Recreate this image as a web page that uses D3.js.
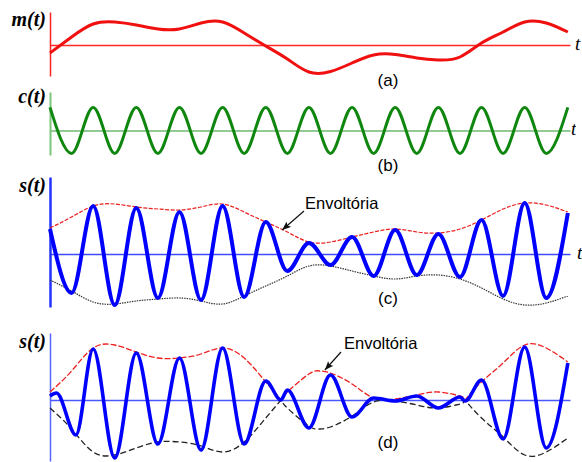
<!DOCTYPE html>
<html lang="pt">
<head>
    <meta charset="utf-8">
    <style type="text/css">
        body { margin: 0; background: #fff; }
        svg { display: block; background: #fff; }
        .lbl { font-family: "Liberation Serif", "Times New Roman", serif; font-weight: bold; font-style: italic; font-size: 20px; }
        .tvar { font-family: "Liberation Serif", "Times New Roman", serif; font-style: italic; font-size: 19px; }
        .tag { font-family: "Liberation Sans", Arial, sans-serif; font-size: 17px; }
        .note { font-family: "Liberation Sans", Arial, sans-serif; font-size: 16.5px; }
    </style>
</head>
<body>
<div id="chart"></div>
<script src="https://d3js.org/d3.v7.min.js"></script>
<script type="text/javascript">
    /* time in carrier periods, sampled at every carrier peak / trough */
    var tGrid = [0, 0.5, 1, 1.5, 2, 2.5, 3, 3.5, 4, 4.5, 5, 5.5, 6,
                 6.5, 7, 7.5, 8, 8.5, 9, 9.5, 10, 10.5, 11, 11.5, 12];

    // (a) message m(t)
    var message = [-0.32, 0.32, 0.84, 0.92, 0.80, 0.64, 0.64, 0.88, 0.92, 0.48, -0.04, -0.56, -1.08,
                   -1.06, -0.72, -0.40, -0.38, -0.52, -0.60, -0.48, 0.08, 0.52, 0.92, 0.88, 0.52];

    // (b) carrier c(t)
    var carrier = [1, -1, 1, -1, 1, -1, 1, -1, 1, -1, 1, -1, 1,
                   -1, 1, -1, 1, -1, 1, -1, 1, -1, 1, -1, 1];

    // (c) AM signal and its envelope
    var sAm = [0.50, -0.78, 0.96, -1.02, 0.92, -0.88, 0.84, -0.92, 0.96, -0.86, 0.64, -0.34, 0.22,
               -0.22, 0.34, -0.44, 0.48, -0.42, 0.40, -0.46, 0.68, -0.84, 1.02, -0.88, 0.82];
    var envAm = [0.52, 0.74, 0.96, 1.00, 0.94, 0.90, 0.88, 0.94, 1.00, 0.84, 0.64, 0.44, 0.24,
                 0.24, 0.34, 0.44, 0.50, 0.44, 0.42, 0.50, 0.68, 0.90, 1.02, 0.98, 0.84];

    // (d) DSB signal (extra points where the envelope touches zero)
    var tDsb = [0, 0.15, 0.6, 1, 1.5, 2, 2.5, 3, 3.5, 4, 4.5, 5, 5.35, 5.5, 6,
                6.5, 7, 7.5, 8, 8.5, 9, 9.5, 9.62, 10, 10.5, 11, 11.5, 12];
    var sDsb = [0.08, 0.14, -0.70, 1.02, -1.16, 0.94, -0.88, 0.84, -1.0, 1.04, -0.88, 0.38, 0, 0.20, -0.56,
                0.50, -0.34, 0.04, -0.02, 0.08, -0.16, 0.06, -0.02, 0.40, -0.78, 1.06, -0.96, 0.74];
    var tEnvD = [0, 0.5, 1, 1.5, 2, 2.5, 3, 3.5, 4, 4.5, 5, 5.35, 5.5, 6, 6.25,
                 6.5, 7, 7.5, 8, 8.5, 9, 9.5, 9.62, 10, 10.5, 11, 11.5, 12];
    var envDsb = [0.16, 0.58, 1.04, 1.10, 0.96, 0.84, 0.84, 0.92, 1.04, 0.84, 0.36, 0, -0.16, -0.52, -0.58,
                  -0.54, -0.32, -0.04, -0.02, -0.10, -0.16, -0.08, 0, 0.36, 0.74, 1.10, 1.04, 0.76];

    var panelTags = ['(a)', '(b)', '(c)', '(d)'];
    var noteText = 'Envoltória';

    var width = 582,
        height = 462;

    var svg = d3.select('#chart')
        .append('svg')
        .attr('width', width)
        .attr('height', height);

    var x = d3.scaleLinear().domain([0, 12.05]).range([50, 570]);

    var yA = d3.scaleLinear().domain([-1.24, 1.32]).range([76, 12]);
    var yB = d3.scaleLinear().domain([-1.07, 1.67]).range([155, 92]);
    var yC = d3.scaleLinear().domain([-1.06, 1.54]).range([307, 177]);
    var yD = d3.scaleLinear().domain([-1.22, 1.34]).range([461, 333]);

    function pairs(ts, vs) {
        return ts.map(function (t, i) { return [t, vs[i]]; });
    }

    function lineFor(y, curve) {
        return d3.line()
            .x(function (d) { return x(d[0]); })
            .y(function (d) { return y(d[1]); })
            .curve(curve);
    }

    function drawAxes(y, hColor, hWidth, vColor, vWidth) {
        var gx = svg.append('g')
            .attr('color', hColor)
            .attr('transform', 'translate(0,' + y(0) + ')')
            .call(d3.axisBottom(x).tickValues([]).tickSizeOuter(0));
        gx.select('.domain').style('stroke', hColor).style('stroke-width', hWidth);

        var gy = svg.append('g')
            .attr('color', vColor)
            .attr('transform', 'translate(' + x(0) + ',0)')
            .call(d3.axisLeft(y).tickValues([]).tickSizeOuter(0));
        gy.select('.domain').style('stroke', vColor).style('stroke-width', vWidth);
    }

    var defs = svg.append('defs');
    defs.append('marker')
        .attr('id', 'arrow')
        .attr('viewBox', '0 0 10 8')
        .attr('refX', 10)
        .attr('refY', 4)
        .attr('markerWidth', 9)
        .attr('markerHeight', 7)
        .attr('markerUnits', 'userSpaceOnUse')
        .attr('orient', 'auto')
        .append('path')
        .attr('d', 'M0,0 L10,4 L0,8 L2,4 z')
        .attr('fill', '#111');

    // clip regions above / below the (d) time axis so envelope = |m| and -|m|
    defs.append('clipPath').attr('id', 'upD')
        .append('rect').attr('x', 0).attr('y', 0).attr('width', width).attr('height', yD(0));
    defs.append('clipPath').attr('id', 'downD')
        .append('rect').attr('x', 0).attr('y', yD(0)).attr('width', width).attr('height', height - yD(0));
    defs.append('clipPath').attr('id', 'edgeB')
        .append('rect').attr('x', 0).attr('y', 0).attr('width', 576).attr('height', height);

    /* ---------- (a) m(t) ---------- */
    drawAxes(yA, '#ff2a2a', 1.3, '#ff2020', 1.5);
    svg.append('path')
        .datum(pairs(tGrid, message))
        .attr('d', lineFor(yA, d3.curveNatural))
        .attr('fill', 'none')
        .attr('stroke', '#f01010')
        .attr('stroke-width', 3);

    /* ---------- (b) c(t) ---------- */
    drawAxes(yB, '#6fb86f', 1.5, '#7cc47c', 2);
    svg.append('path')
        .datum(pairs(tGrid, carrier))
        .attr('d', lineFor(yB, d3.curveMonotoneX))
        .attr('fill', 'none')
        .attr('stroke', '#0f870f')
        .attr('stroke-width', 3);

    /* ---------- (c) AM ---------- */
    drawAxes(yC, '#3d4cff', 1.6, '#2233ff', 2.5);
    var envC = pairs(tGrid, envAm);
    svg.append('path')
        .datum(envC)
        .attr('d', lineFor(yC, d3.curveNatural))
        .attr('fill', 'none')
        .attr('stroke', '#ee2020')
        .attr('stroke-width', 1.2)
        .attr('stroke-dasharray', '4,1.5');
    svg.append('path')
        .datum(envC.map(function (d) { return [d[0], -d[1]]; }))
        .attr('d', lineFor(yC, d3.curveNatural))
        .attr('fill', 'none')
        .attr('stroke', '#333')
        .attr('stroke-width', 1.2)
        .attr('stroke-dasharray', '1.5,1');
    svg.append('path')
        .datum(pairs(tGrid, sAm))
        .attr('d', lineFor(yC, d3.curveMonotoneX))
        .attr('fill', 'none')
        .attr('stroke', '#0000ff')
        .attr('stroke-width', 4);

    /* ---------- (d) DSB ---------- */
    drawAxes(yD, '#4a58ff', 1.3, '#5566ff', 1.5);
    var envD = pairs(tEnvD, envDsb);
    var envDneg = envD.map(function (d) { return [d[0], -d[1]]; });
    [envD, envDneg].forEach(function (data) {
        svg.append('path')
            .datum(data)
            .attr('clip-path', 'url(#upD)')
            .attr('d', lineFor(yD, d3.curveNatural))
            .attr('fill', 'none')
            .attr('stroke', '#ee2020')
            .attr('stroke-width', 1.3)
            .attr('stroke-dasharray', '6,2');
        svg.append('path')
            .datum(data)
            .attr('clip-path', 'url(#downD)')
            .attr('d', lineFor(yD, d3.curveNatural))
            .attr('fill', 'none')
            .attr('stroke', '#222')
            .attr('stroke-width', 1.3)
            .attr('stroke-dasharray', '6,3');
    });
    svg.append('path')
        .datum(pairs(tDsb, sDsb))
        .attr('d', lineFor(yD, d3.curveMonotoneX))
        .attr('fill', 'none')
        .attr('stroke', '#0000ff')
        .attr('stroke-width', 3.6);

    /* ---------- labels ---------- */
    var sigLabels = [
        {text: 'm(t)', y: 26},
        {text: 'c(t)', y: 103},
        {text: 's(t)', y: 192},
        {text: 's(t)', y: 348}
    ];
    svg.selectAll('.lbl')
        .data(sigLabels)
        .enter()
        .append('text')
        .attr('class', 'lbl')
        .attr('x', x(0) - 4)
        .attr('y', function (d) { return d.y; })
        .attr('text-anchor', 'end')
        .text(function (d) { return d.text; });

    var tagY = [86, 171, 304, 448];
    svg.selectAll('.tag')
        .data(panelTags)
        .enter()
        .append('text')
        .attr('class', 'tag')
        .attr('x', 388)
        .attr('y', function (d, i) { return tagY[i]; })
        .attr('text-anchor', 'middle')
        .text(function (d) { return d; });

    // time-axis letters at the right edge
    svg.append('text').attr('class', 'tvar').attr('x', 575).attr('y', yA(0) + 5).text('t');
    svg.append('text').attr('class', 'tvar').attr('x', 571).attr('y', yB(0) + 5)
        .attr('clip-path', 'url(#edgeB)').text('t');
    svg.append('text').attr('class', 'tvar').attr('x', 577).attr('y', yC(0) + 5).text('t');

    /* ---------- Envoltória notes ---------- */
    var notes = [
        {tx: 305, ty: 209, from: [304, 211], tip: [x(5.38), yC(0.48)]},
        {tx: 344, ty: 349, from: [341, 352], tip: [x(6.37), yD(0.6)]}
    ];
    notes.forEach(function (n) {
        svg.append('text')
            .attr('class', 'note')
            .attr('x', n.tx)
            .attr('y', n.ty)
            .text(noteText);
        svg.append('line')
            .attr('x1', n.from[0]).attr('y1', n.from[1])
            .attr('x2', n.tip[0]).attr('y2', n.tip[1])
            .attr('stroke', '#111')
            .attr('stroke-width', 1.2)
            .attr('marker-end', 'url(#arrow)');
    });
</script>
</body>
</html>
